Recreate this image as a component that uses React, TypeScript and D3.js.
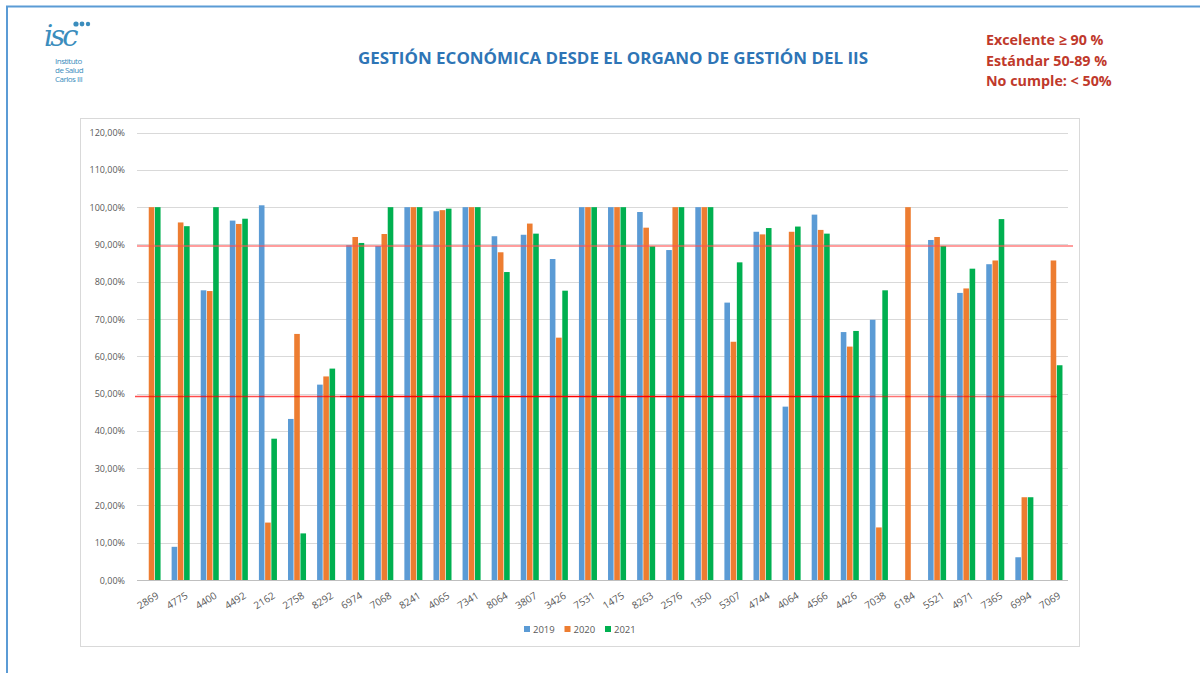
import React, { useEffect, useRef } from 'react';
import * as d3 from 'd3';

const categories = [
  '2869', '4775', '4400', '4492', '2162', '2758', '8292', '6974', '7068', '8241', '4065',
  '7341', '8064', '3807', '3426', '7531', '1475', '8263', '2576', '1350', '5307', '4744',
  '4064', '4566', '4426', '7038', '6184', '5521', '4971', '7365', '6994', '7069'
];
const seriesNames = ['2019', '2020', '2021'];
const values2019 = [
  null, 8.9, 77.7, 96.4, 100.5, 43.2, 52.4, 89.8, 89.6, 100, 98.9, 100, 92.2, 92.6, 86.1, 100,
  100, 98.7, 88.5, 100, 74.4, 93.4, 46.5, 98.0, 66.5, 69.8, null, 91.2, 77.0, 84.7, 6.1, null
];
const values2020 = [
  100, 95.9, 77.5, 95.5, 15.4, 66.0, 54.6, 92.0, 92.8, 100, 99.2, 100, 87.9, 95.6, 65.0, 100,
  100, 94.5, 100, 100, 63.9, 92.7, 93.4, 93.9, 62.6, 14.1, 100, 92.0, 78.2, 85.7, 22.2, 85.7
];
const values2021 = [
  100, 94.9, 100, 96.9, 37.9, 12.5, 56.7, 90.4, 100, 100, 99.6, 100, 82.6, 92.9, 77.6, 100,
  100, 89.5, 100, 100, 85.2, 94.4, 94.8, 92.9, 66.8, 77.7, null, 89.6, 83.5, 96.8, 22.2, 57.6
];
const yTicks = [0, 10, 20, 30, 40, 50, 60, 70, 80, 90, 100, 110, 120];
const thresholds = [89.6, 49.2];
const criteria = ['Excelente ≥ 90 %', 'Estándar 50-89 %', 'No cumple: < 50%'];

const colors = ['#5b9bd5', '#ed7d31', '#00b050'];

const App = () => {
  const chRef = useRef<SVGSVGElement | null>(null);

  useEffect(() => {
    const svg = d3.select(chRef.current);
    svg.selectAll('*').remove();

    const series = [values2019, values2020, values2021];
    const left = 137;
    const right = 1068;
    const y = d3.scaleLinear().domain([0, 120]).range([580, 132.6]);
    const x = d3.scaleBand().domain(categories).range([left, right]).padding(0);
    const inner = d3
      .scaleBand()
      .domain(seriesNames)
      .range([x.bandwidth() * 0.19, x.bandwidth() * 0.81])
      .paddingInner(0.1);

    // slide frame
    svg.append('rect').attr('width', 1200).attr('height', 673).attr('fill', '#fff');
    svg
      .append('path')
      .attr('d', 'M7,673 V6.5 H1200')
      .attr('fill', 'none')
      .attr('stroke', '#5b9bd5')
      .attr('stroke-width', 2);

    // logo
    const logo = svg.append('g').attr('fill', '#3b8dbd');
    logo
      .append('text')
      .attr('x', 44)
      .attr('y', 46)
      .style('font-family', 'DejaVu Serif, serif')
      .style('font-style', 'italic')
      .style('font-size', '29px')
      .style('letter-spacing', '-3px')
      .text('isc');
    [[76, 24, 2.6], [82, 24, 2.4], [88, 24, 2.2]].forEach(([cx, cy, r]) =>
      logo.append('circle').attr('cx', cx).attr('cy', cy).attr('r', r)
    );
    ['Instituto', 'de Salud', 'Carlos III'].forEach((t, i) =>
      logo
        .append('text')
        .attr('x', 55)
        .attr('y', 64 + i * 9)
        .style('font-family', 'Open Sans, sans-serif')
        .style('font-size', '8px')
        .style('letter-spacing', '-0.5px')
        .text(t)
    );

    // title
    svg
      .append('text')
      .attr('x', 358)
      .attr('y', 64)
      .attr('textLength', 510)
      .attr('lengthAdjust', 'spacingAndGlyphs')
      .style('font-family', 'Open Sans, sans-serif')
      .style('font-weight', 700)
      .style('font-size', '16px')
      .style('fill', '#2e75b6')
      .text('GESTIÓN ECONÓMICA DESDE EL ORGANO DE GESTIÓN DEL IIS');

    // criteria
    svg
      .selectAll('text.crit')
      .data(criteria)
      .enter()
      .append('text')
      .attr('class', 'crit')
      .attr('x', 986)
      .attr('y', (d, i) => 45 + i * 20.5)
      .style('font-family', 'Open Sans, sans-serif')
      .style('font-weight', 700)
      .style('font-size', '14.3px')
      .style('fill', '#c0392b')
      .text((d) => d);

    // chart box
    svg
      .append('rect')
      .attr('x', 80.5)
      .attr('y', 118.5)
      .attr('width', 999)
      .attr('height', 528)
      .attr('fill', '#fff')
      .attr('stroke', '#d9d9d9');

    // gridlines + y labels
    svg
      .selectAll('line.grid')
      .data(yTicks)
      .enter()
      .append('line')
      .attr('x1', left)
      .attr('x2', right)
      .attr('y1', (d) => Math.round(y(d)) + 0.5)
      .attr('y2', (d) => Math.round(y(d)) + 0.5)
      .attr('stroke', (d) => (d === 0 ? '#bfbfbf' : '#d9d9d9'));

    svg
      .selectAll('text.ytick')
      .data(yTicks)
      .enter()
      .append('text')
      .attr('x', 125)
      .attr('y', (d) => y(d) + 3.5)
      .attr('text-anchor', 'end')
      .style('font-family', 'Open Sans, sans-serif')
      .style('font-size', '9px')
      .style('fill', '#595959')
      .text((d) => d3.format('.2f')(d).replace('.', ',') + '%');

    // bars
    series.forEach((vals, si) => {
      svg
        .append('g')
        .selectAll('rect')
        .data(vals.map((v, i) => ({ v, c: categories[i] })).filter((d) => d.v !== null))
        .enter()
        .append('rect')
        .attr('x', (d) => (x(d.c) as number) + (inner(seriesNames[si]) as number))
        .attr('width', inner.bandwidth())
        .attr('y', (d) => y(d.v as number))
        .attr('height', (d) => y(0) - y(d.v as number))
        .attr('fill', colors[si]);
    });

    // threshold lines
    svg
      .append('line')
      .attr('x1', left)
      .attr('x2', 1073)
      .attr('y1', y(thresholds[0]))
      .attr('y2', y(thresholds[0]))
      .attr('stroke', '#ff5050')
      .attr('stroke-opacity', 0.75)
      .attr('stroke-width', 1.5);
    const lowSegments = [
      [135, 340, 0.7],
      [340, 860, 1],
      [860, 1057, 0.55]
    ];
    lowSegments.forEach(([a, b, o]) =>
      svg
        .append('line')
        .attr('x1', a)
        .attr('x2', b)
        .attr('y1', y(thresholds[1]))
        .attr('y2', y(thresholds[1]))
        .attr('stroke', '#ff0000')
        .attr('stroke-opacity', o)
        .attr('stroke-width', 1.5)
    );

    // x labels
    svg
      .selectAll('text.xlab')
      .data(categories)
      .enter()
      .append('text')
      .attr('text-anchor', 'end')
      .attr(
        'transform',
        (d) => `translate(${(x(d) as number) + x.bandwidth() / 2 + 4},${591}) rotate(-32)`
      )
      .attr('dy', '0.75em')
      .style('font-family', 'Open Sans, sans-serif')
      .style('font-size', '10px')
      .style('fill', '#595959')
      .text((d) => d);

    // legend
    const legend = svg
      .selectAll('g.leg')
      .data(seriesNames)
      .enter()
      .append('g')
      .attr('transform', (d, i) => `translate(${524 + i * 40.5},626)`);
    legend
      .append('rect')
      .attr('width', 6)
      .attr('height', 6)
      .attr('fill', (d, i) => colors[i]);
    legend
      .append('text')
      .attr('x', 9)
      .attr('y', 6.5)
      .style('font-family', 'Open Sans, sans-serif')
      .style('font-size', '9.5px')
      .style('fill', '#595959')
      .text((d) => d);
  }, []);

  return (
    <svg
      ref={chRef}
      width={1200}
      height={673}
      style={{ position: 'absolute', left: 0, top: 0, display: 'block' }}
    />
  );
};

export default App;
